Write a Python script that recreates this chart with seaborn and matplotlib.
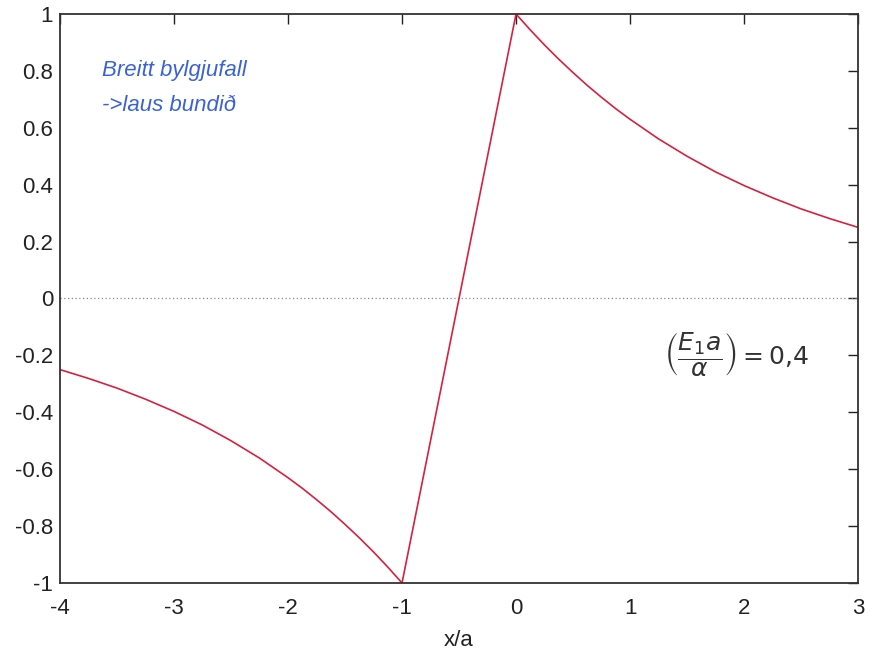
import numpy as np
import pandas as pd
import matplotlib
matplotlib.use("Agg")
import matplotlib.pyplot as plt
import seaborn as sns

# values
x_left = [-4.0, -3.75, -3.5, -3.25, -3.0, -2.75, -2.5, -2.25, -2.0, -1.875, -1.75, -1.625,
          -1.5, -1.375, -1.25, -1.125, -1.0]
y_left = [-0.25, -0.281, -0.315, -0.354, -0.397, -0.445, -0.50, -0.561, -0.630, -0.667,
          -0.707, -0.749, -0.794, -0.841, -0.891, -0.944, -1.0]
x_mid = [-1.0, 0.0]
y_mid = [-1.0, 1.0]
x_right = [0.0, 0.125, 0.25, 0.375, 0.5, 0.625, 0.75, 0.875, 1.0, 1.25, 1.5, 1.75, 2.0,
           2.25, 2.5, 2.75, 3.0]
y_right = [1.0, 0.944, 0.891, 0.841, 0.794, 0.749, 0.707, 0.667, 0.630, 0.561, 0.50,
           0.445, 0.397, 0.354, 0.315, 0.281, 0.25]

x_ticks = [-4, -3, -2, -1, 0, 1, 2, 3]
y_ticks = [-1, -0.8, -0.6, -0.4, -0.2, 0, 0.2, 0.4, 0.6, 0.8, 1]

sns.set_style("white")
plt.rcParams['font.family'] = ['Liberation Sans', 'DejaVu Sans']

curve = pd.DataFrame({
    "x": x_left + x_mid + x_right,
    "y": y_left + y_mid + y_right,
    "seg": ["left"] * len(x_left) + ["mid"] * len(x_mid) + ["right"] * len(x_right),
})

fig = plt.figure(figsize=(8.72, 6.54), dpi=100)
ax = fig.add_axes([0.0688, 0.1086, 0.9152, 0.870])

ax.axhline(0, color="#888888", lw=0.9, ls=(0, (1, 2)))
for seg, part in curve.groupby("seg", sort=False):
    sns.lineplot(data=part, x="x", y="y", ax=ax, color="#d6213f", lw=1.2,
                 sort=False, estimator=None, legend=False)

ax.set_xlim(-4, 3)
ax.set_ylim(-1, 1)
ax.set_xticks(x_ticks)
ax.set_xticklabels([str(t) for t in x_ticks])
ax.set_yticks(y_ticks)
ax.set_yticklabels(["-1", "-0.8", "-0.6", "-0.4", "-0.2", "0", "0.2", "0.4", "0.6", "0.8", "1"])
ax.tick_params(direction="in", length=7, width=1, labelsize=16, top=True, right=True,
               colors="#222222", pad=5)
ax.tick_params(axis="x", pad=11)
ax.set_xlabel("x/a", fontsize=16, color="#222222", labelpad=8)
ax.set_ylabel("")
for s in ax.spines.values():
    s.set_linewidth(1.3)
    s.set_color("#333333")

# handwritten notes
ax.text(-3.63, 0.80, "Breitt bylgjufall", fontsize=16, color="#3a62d8", style="italic",
        va="center")
ax.text(-3.63, 0.68, "->laus bundi\u00f0", fontsize=16, color="#3a62d8", style="italic",
        va="center")
ax.text(1.3, -0.20, r"$\left(\dfrac{E_1 a}{\alpha}\right) = 0{,}4$", fontsize=18,
        color="#333333", va="center")

fig.savefig("out.png", dpi=100)
